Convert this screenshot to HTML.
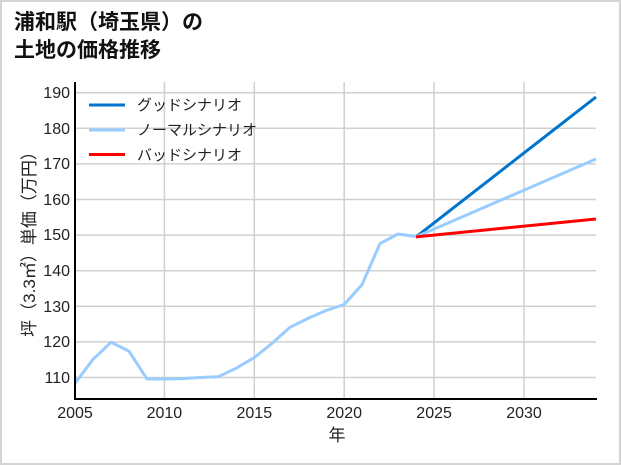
<!DOCTYPE html>
<html><head><meta charset="utf-8"><style>
body{margin:0;background:#fff;}
.wrap{position:relative;width:617px;height:461px;border:2px solid #d4d4d4;background:#fff;}
.t{position:absolute;left:12px;top:7px;font:bold 21px/28px "Liberation Sans","Noto Sans CJK JP",sans-serif;color:#111;}
svg{position:absolute;left:-2px;top:-2px;}
text{font-family:"Liberation Sans","Noto Sans CJK JP",sans-serif;}
</style></head><body>
<div class="wrap">
<div class="t">浦和駅（埼玉県）の<br>土地の価格推移</div>
<svg width="621" height="465" viewBox="0 0 621 465">
<g stroke="#d0d0d0" stroke-width="1.5">
<line x1="164.4" y1="82" x2="164.4" y2="399"/><line x1="254.3" y1="82" x2="254.3" y2="399"/>
<line x1="344.2" y1="82" x2="344.2" y2="399"/><line x1="434.1" y1="82" x2="434.1" y2="399"/>
<line x1="524" y1="82" x2="524" y2="399"/>
<line x1="75" y1="92.7" x2="596" y2="92.7"/><line x1="75" y1="128.3" x2="596" y2="128.3"/>
<line x1="75" y1="163.9" x2="596" y2="163.9"/><line x1="75" y1="199.5" x2="596" y2="199.5"/>
<line x1="75" y1="235.1" x2="596" y2="235.1"/><line x1="75" y1="270.7" x2="596" y2="270.7"/>
<line x1="75" y1="306.3" x2="596" y2="306.3"/><line x1="75" y1="341.9" x2="596" y2="341.9"/>
<line x1="75" y1="377.5" x2="596" y2="377.5"/>
</g>
<g font-size="16" fill="#222" text-anchor="end">
<text x="70" y="98">190</text><text x="70" y="134">180</text><text x="70" y="169">170</text>
<text x="70" y="205">160</text><text x="70" y="240">150</text><text x="70" y="276">140</text>
<text x="70" y="312">130</text><text x="70" y="347">120</text><text x="70" y="383">110</text>
</g>
<g font-size="16" fill="#222" text-anchor="middle">
<text x="75" y="418">2005</text><text x="164.4" y="418">2010</text><text x="254.3" y="418">2015</text>
<text x="344.2" y="418">2020</text><text x="434.1" y="418">2025</text><text x="524" y="418">2030</text>
<text x="337" y="441" font-size="17">年</text>
</g>
<text transform="translate(35,240) rotate(-90)" font-size="17" fill="#222" text-anchor="middle">坪（3.3㎡）単価（万円）</text>
<g fill="none" stroke-width="3" stroke-linejoin="round">
<polyline stroke="#0073cc" points="416,236.9 596,97"/>
<polyline stroke="#99ccff" points="416,236.9 596,159"/>
<polyline stroke="#ff0000" points="416,236.9 596,219"/>
<polyline stroke="#99ccff" points="75,383.3 93,359.4 111,342.3 129,351.2 147,379 164.4,379 182,378.6 200,377.5 218,376.8 236,368.3 254.3,357.6 272,343.4 290,327.3 308,318.4 326,310.5 344.2,304.5 362,284.6 380,243.6 398,234 416,236.5"/>
</g>
<line x1="75" y1="82" x2="75" y2="400" stroke="#000" stroke-width="2"/>
<line x1="74" y1="399" x2="597" y2="399" stroke="#000" stroke-width="2"/>
<g stroke-width="3">
<line x1="89" y1="105" x2="125" y2="105" stroke="#0073cc"/>
<line x1="89" y1="130" x2="125" y2="130" stroke="#99ccff"/>
<line x1="89" y1="154.5" x2="125" y2="154.5" stroke="#ff0000"/>
</g>
<g font-size="15" fill="#222">
<text x="137" y="110">グッドシナリオ</text>
<text x="137" y="135">ノーマルシナリオ</text>
<text x="137" y="160">バッドシナリオ</text>
</g>
</svg>
</div>
</body></html>
